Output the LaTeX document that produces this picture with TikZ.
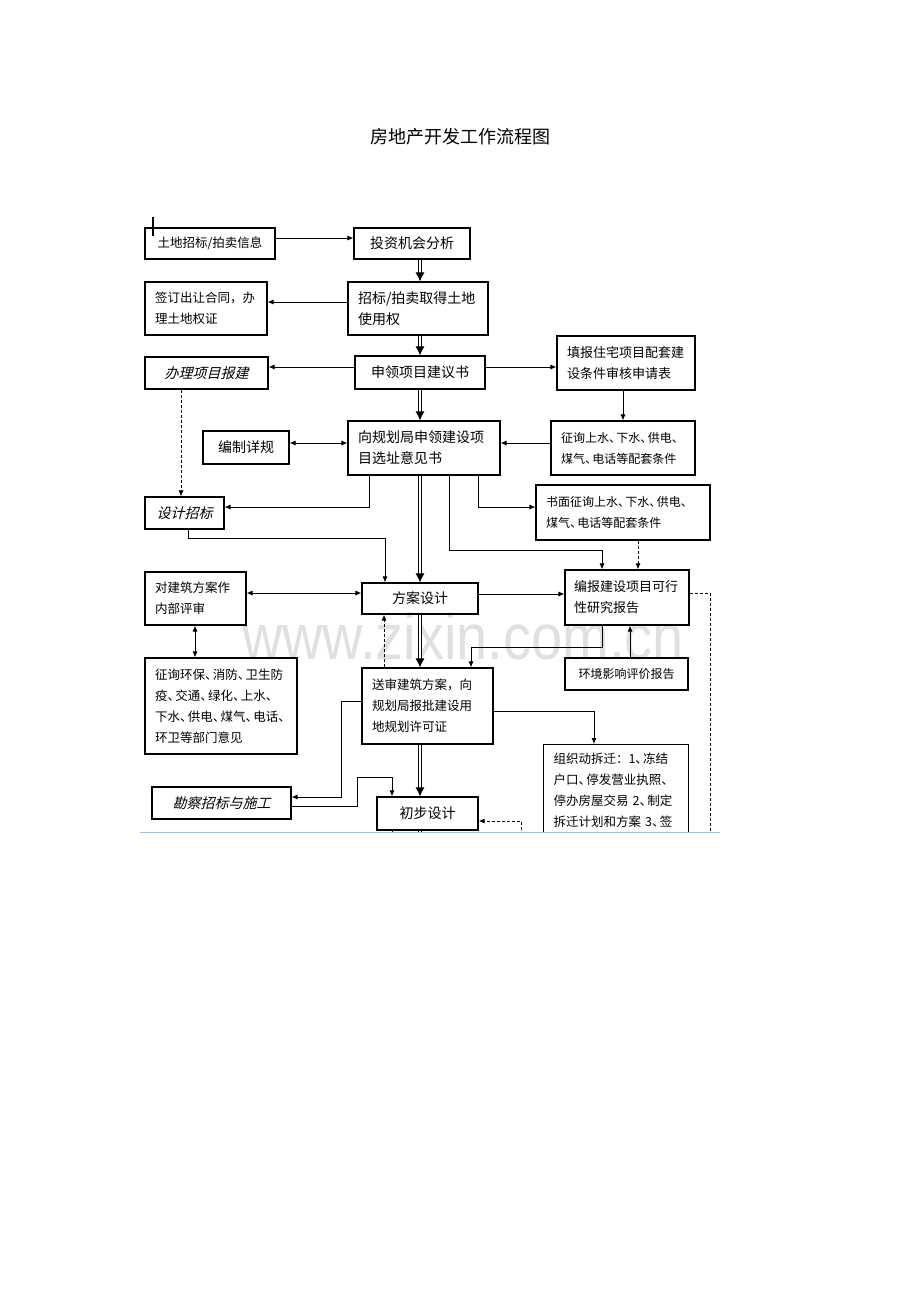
\documentclass[tikz,border=0pt]{standalone}
\usepackage{fontspec}
\setmainfont{Noto Sans CJK SC}
\newfontfamily\slcjk[FakeSlant=0.25]{Noto Sans CJK SC}
\newfontfamily\wmfont{Liberation Sans}
\usepackage{xcolor}
\usetikzlibrary{arrows.meta}
\definecolor{cutblue}{RGB}{160,196,232}
\newcommand{\dn}{\makebox[0.62em][l]{、}}

\begin{document}
\begin{tikzpicture}[x=1pt,y=-1pt,
  box/.style={draw,line width=1.1pt,inner sep=0pt},
  multi/.style={align=left,inner xsep=10pt,inner ysep=0pt},
  big/.style={font=\fontsize{14}{21}\selectfont},
  mid/.style={font=\fontsize{13}{21}\selectfont},
  small/.style={font=\fontsize{12.5}{21}\selectfont},
  tiny/.style={font=\fontsize{12}{21}\selectfont},
  ital/.style={font=\slcjk\fontsize{14}{21}\selectfont},
  arr/.style={line width=0.9pt,-{Latex[length=6pt,width=5pt]}},
  darr/.style={line width=0.9pt,{Latex[length=6pt,width=5pt]}-{Latex[length=6pt,width=5pt]}},
  dasharr/.style={arr,dash pattern=on 3pt off 2pt},
  dashline/.style={line width=0.9pt,dash pattern=on 3pt off 2pt},
  trunk/.style={double,double distance=1.6pt,line width=1pt,-{Latex[length=9pt,width=9pt]}}]

  \useasboundingbox (0,0) rectangle (920,1302);

  % watermark and title
  \node[anchor=base,text=black!12,font=\wmfont\fontsize{56}{60}\selectfont] (mark) at (463,659) {\scalebox{1}[1.15]{www.zixin.com.cn}};
  \node[font=\fontsize{18}{22}\selectfont] (title) at (460,137) {房地产开发工作流程图};

  \begin{scope}
  \clip (0,0) rectangle (920,832);

  \draw[line width=1.6pt] (153,217) -- (153,236);

  % boxes
  \node[box,small,minimum width=130,minimum height=31] (tudi) at (210,243.5) {土地招标/拍卖信息};
  \node[box,big,minimum width=116,minimum height=31] (touzi) at (412,243.5) {投资机会分析};
  \node[box,big,multi,text width=120pt,minimum height=53] (zhaobiao) at (418,308.5) {招标/拍卖取得土地\\使用权};
  \node[box,small,multi,text width=102pt,minimum height=53] (qianding) at (206,308.5) {签订出让合同，办\\理土地权证};
  \node[box,big,minimum width=130,minimum height=33] (shenling) at (420,372.5) {申领项目建议书};
  \node[box,ital,minimum width=123,minimum height=32] (baojian) at (206.5,373) {办理项目报建};
  \node[box,mid,multi,text width=118pt,minimum height=54] (tianbao) at (626,363) {填报住宅项目配套建\\设条件审核申请表};
  \node[box,tiny,multi,text width=124pt,minimum height=54] (zhengxun) at (623,448) {征询上水\dn 下水\dn 供电\dn\\煤气\dn 电话等配套条件};
  \node[box,big,multi,text width=132pt,minimum height=54] (xuanzhi) at (424,448) {向规划局申领建设项\\目选址意见书};
  \node[box,big,minimum width=86,minimum height=33] (xianggui) at (246,447.5) {编制详规};
  \node[box,ital,minimum width=79,minimum height=32] (sheji) at (184.5,513) {设计招标};
  \node[box,tiny,multi,text width=154pt,minimum height=55] (shumian) at (623,512.5) {书面征询上水\dn 下水\dn 供电\dn\\煤气\dn 电话等配套条件};
  \node[box,big,minimum width=116,minimum height=31] (fangan) at (420,598.5) {方案设计};
  \node[box,small,multi,text width=81pt,minimum height=53] (neibu) at (195.5,598.5) {对建筑方案作\\内部评审};
  \node[box,mid,multi,text width=106pt,inner xsep=9pt,minimum height=55] (kexing) at (627,597.5) {编报建设项目可行\\性研究报告};
  \node[box,tiny,minimum width=123,minimum height=32] (huanjing) at (626.5,674) {环境影响评价报告};
  \node[box,small,multi,text width=132pt,minimum height=96] (huanbao) at (221,706) {征询环保\dn 消防\dn 卫生防\\疫\dn 交通\dn 绿化\dn 上水\dn\\下水\dn 供电\dn 煤气\dn 电话\dn\\环卫等部门意见};
  \node[box,small,multi,text width=111pt,minimum height=76] (songshen) at (427.5,706) {送审建筑方案，向\\规划局报批建设用\\地规划许可证};
  \node[box,ital,minimum width=139,minimum height=32] (kancha) at (221.5,803) {勘察招标与施工};
  \node[box,big,minimum width=101,minimum height=33] (chubu) at (427.5,813.5) {初步设计};
  \node[box,small,multi,inner ysep=8pt,text width=125pt,anchor=north west] (chaiqian) at (543,744) {组织动拆迁：1\dn 冻结\\户口\dn 停发营业执照\dn\\停办房屋交易 2\dn 制定\\拆迁计划和方案 3\dn 签};

  \coordinate (rightend) at (710,845);
  \coordinate (dashstart) at (521,845);

  % main line
  \draw[trunk] (touzi.south -| 420,0) -- (zhaobiao.north -| 420,0);
  \draw[trunk] (zhaobiao.south -| 420,0) -- (shenling.north -| 420,0);
  \draw[trunk] (shenling.south -| 420,0) -- (xuanzhi.north -| 420,0);
  \draw[trunk] (xuanzhi.south -| 420,0) -- (fangan.north -| 420,0);
  \draw[trunk] (fangan.south -| 420,0) -- (songshen.north -| 420,0);
  \draw[trunk] (songshen.south -| 420,0) -- (chubu.north -| 420,0);
  \draw[double,double distance=1.6pt,line width=1pt] (chubu.south -| 420,0) -- (420,845);

  % side connectors
  \draw[arr] (tudi.east |- 0,238) -- (touzi.west |- 0,238);
  \draw[arr] (zhaobiao.west |- 0,302) -- (qianding.east |- 0,302);
  \draw[arr] (shenling.west |- 0,367) -- (baojian.east |- 0,367);
  \draw[arr] (shenling.east |- 0,367) -- (tianbao.west |- 0,367);
  \draw[arr] (tianbao.south -| 623,0) -- (zhengxun.north -| 623,0);
  \draw[arr] (zhengxun.west |- 0,443) -- (xuanzhi.east |- 0,443);
  \draw[darr] (xianggui.east |- 0,443) -- (xuanzhi.west |- 0,443);
  \draw[dasharr] (baojian.south -| 181,0) -- (sheji.north -| 181,0);
  \draw[arr] (xuanzhi.south -| 369,0) |- (sheji.east |- 0,507);
  \draw[arr] (xuanzhi.south -| 449,0) |- (602,550) -- (kexing.north -| 602,0);
  \draw[arr] (xuanzhi.south -| 478,0) |- (shumian.west |- 0,507);
  \draw[dasharr] (shumian.south -| 638,0) -- (kexing.north -| 638,0);
  \draw[arr] (sheji.south -| 188,0) |- (385,538) -- (fangan.north -| 385,0);
  \draw[darr] (neibu.east |- 0,593) -- (fangan.west |- 0,593);
  \draw[arr] (fangan.east |- 0,594) -- (kexing.west |- 0,594);
  \draw[darr] (neibu.south -| 195,0) -- (huanbao.north -| 195,0);
  \draw[dasharr] (songshen.north -| 384,0) -- (fangan.south -| 384,0);
  \draw[arr] (kexing.south -| 602,0) |- (471,647) -- (songshen.north -| 471,0);
  \draw[arr] (huanjing.north -| 630,0) -- (kexing.south -| 630,0);
  \draw[dashline] (kexing.east |- 0,593) -| (rightend);
  \draw[arr] (songshen.west |- 0,701) -| (341,797) -- (kancha.east |- 0,797);
  \draw[arr] (kancha.east |- 0,806) -| (357,777) -| (chubu.north -| 392,0);
  \draw[arr] (songshen.east |- 0,711) -| (chaiqian.north -| 594,0);
  \draw[dasharr] (dashstart) |- (chubu.east |- 0,821);
  \draw[line width=0.9pt] (chubu.south -| 392,0) -- (392,845);
  \end{scope}

  \draw[cutblue,line width=1pt] (140,832.5) -- (720,832.5);
\end{tikzpicture}
\end{document}
